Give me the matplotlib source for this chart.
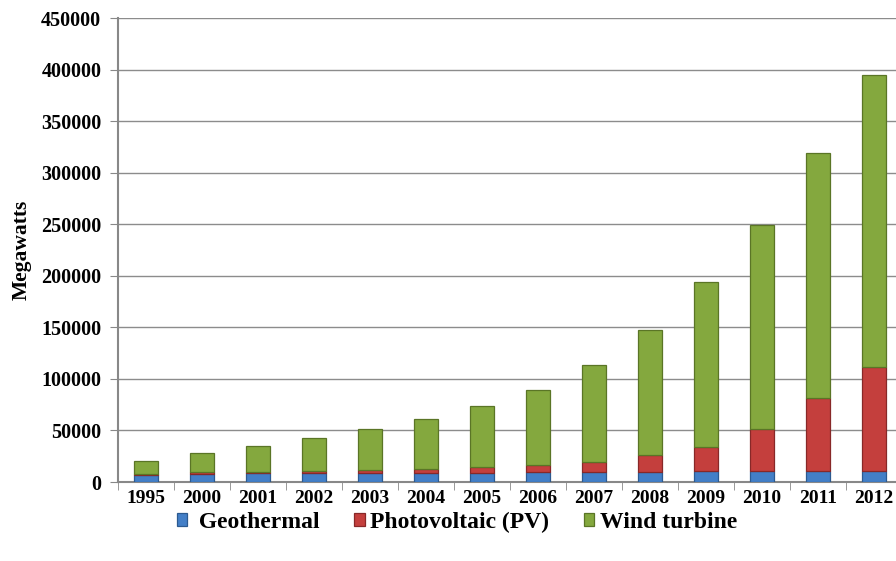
import numpy as np
import matplotlib
matplotlib.use('Agg')
import matplotlib.pyplot as plt

years = ['1995', '2000', '2001', '2002', '2003', '2004', '2005', '2006',
         '2007', '2008', '2009', '2010', '2011', '2012']
geothermal = [6800, 8000, 8300, 8500, 8800, 8900, 9000, 9300, 9600, 10000,
              10400, 10700, 10800, 10800]
photovoltaic = [700, 1300, 1700, 2200, 2800, 3900, 5300, 6800, 9400, 16000,
                24000, 41000, 71000, 101000]
wind = [12500, 18700, 25000, 32000, 39700, 48200, 59300, 73400, 94000,
        121500, 159600, 197800, 237000, 282800]

plt.rcParams['font.family'] = ['Liberation Serif', 'DejaVu Serif']
plt.rcParams['font.weight'] = 'bold'

fig = plt.figure(figsize=(8.96, 5.61), dpi=100)
# axes runs a little past the right edge, as in the original
ax = fig.add_axes([118 / 896, 1 - 482 / 561, 784 / 896, 464 / 561])

x = np.arange(len(years))
geo = np.array(geothermal)
pv = np.array(photovoltaic)
wt = np.array(wind)
w = 0.42

ax.bar(x, geo, width=w, color='#437FC7', edgecolor='#2C5A90', linewidth=0.9,
       label=' Geothermal', zorder=3)
ax.bar(x, pv, width=w, bottom=geo, color='#C43F3D', edgecolor='#882828',
       linewidth=0.9, label='Photovoltaic (PV)', zorder=3)
ax.bar(x, wt, width=w, bottom=geo + pv, color='#84A83E', edgecolor='#5A7526',
       linewidth=0.9, label='Wind turbine', zorder=3)

ax.set_xlim(-0.5, len(years) - 0.5)
ax.set_ylim(0, 450000)
ax.set_yticks(range(0, 450001, 50000))
ax.set_xticks(x)
ax.set_xticklabels(years)
ax.set_xticks(np.arange(-0.5, len(years), 1), minor=True)
ax.tick_params(axis='x', which='major', length=0, pad=6, labelsize=14)
ax.tick_params(axis='x', which='minor', length=6, color='#888888',
               direction='out')
ax.tick_params(axis='y', length=6, color='#888888', labelsize=14.5, pad=6)

ax.grid(axis='y', color='#8c8c8c', linewidth=1.0, zorder=0)
for s in ['top', 'right']:
    ax.spines[s].set_visible(False)
ax.spines['left'].set_color('#888888')
ax.spines['bottom'].set_color('#888888')
ax.spines['left'].set_linewidth(1.5)
ax.spines['bottom'].set_linewidth(1.5)

ax.set_ylabel('Megawatts', fontsize=15.5, fontweight='bold', labelpad=7)

fig.legend(loc='center', bbox_to_anchor=(457 / 896, 1 - 522 / 561), ncol=3,
           frameon=False, fontsize=17, handlelength=0.45, handleheight=0.45,
           handletextpad=0.25, columnspacing=1.45)

plt.savefig('out.png', dpi=100)
